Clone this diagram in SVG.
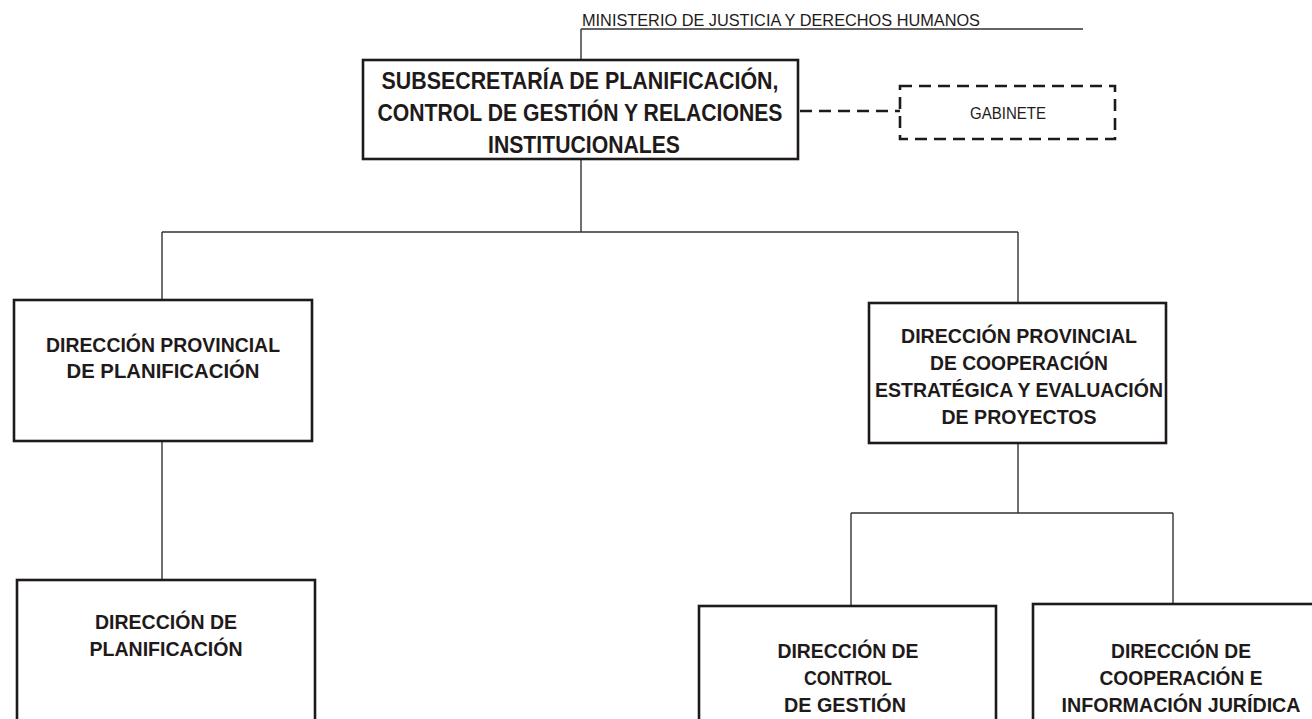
<svg xmlns="http://www.w3.org/2000/svg" width="1312" height="719" viewBox="0 0 1312 719">
<style>
.bg{fill:#ffffff}
.box{fill:#ffffff;stroke:#1f1a1a;stroke-width:2.6}
.dbox{fill:none;stroke:#1f1a1a;stroke-width:2.6;stroke-dasharray:12 7}
.con{fill:none;stroke:#333333;stroke-width:1.4}
.dcon{fill:none;stroke:#1f1a1a;stroke-width:2.6;stroke-dasharray:12 7}
.t{font-family:"Liberation Sans",Arial,sans-serif;font-weight:bold;fill:#1f1a1a;text-anchor:middle;font-size:21px}
.tt{font-size:23px}
.n{font-family:"Liberation Sans",Arial,sans-serif;fill:#1f1a1a;font-size:17px}
</style>
<rect class="bg" x="0" y="0" width="1312" height="719"/>
<g id="connectors">
<path class="con" d="M581 29 H1083 M581 29 V60"/>
<path class="con" d="M581 159 V232 M162 232 H1018 M162 232 V300 M1018 232 V303"/>
<path class="con" d="M162 441 V580"/>
<path class="con" d="M1018 443 V513 M851 513 H1173 M851 513 V606 M1173 513 V604"/>
<path class="dcon" d="M800 111 H900"/>
</g>
<g id="ministerio">
<text class="n" x="582" y="26" textLength="398" lengthAdjust="spacingAndGlyphs">MINISTERIO DE JUSTICIA Y DERECHOS HUMANOS</text>
</g>
<g id="subsecretaria">
<rect class="box" x="363" y="60" width="435" height="99"/>
<text class="t tt" x="580" y="89" textLength="397" lengthAdjust="spacingAndGlyphs">SUBSECRETARÍA DE PLANIFICACIÓN,</text>
<text class="t tt" x="580" y="121" textLength="405" lengthAdjust="spacingAndGlyphs">CONTROL DE GESTIÓN Y RELACIONES</text>
<text class="t tt" x="584" y="153" textLength="192" lengthAdjust="spacingAndGlyphs">INSTITUCIONALES</text>
</g>
<g id="gabinete">
<rect class="dbox" x="900" y="86" width="215" height="53"/>
<text class="n" x="1008" y="119" text-anchor="middle" font-size="16" textLength="76" lengthAdjust="spacingAndGlyphs">GABINETE</text>
</g>
<g id="dp-planificacion">
<rect class="box" x="14" y="300" width="298" height="141"/>
<text class="t" x="163" y="352" textLength="234" lengthAdjust="spacingAndGlyphs">DIRECCIÓN PROVINCIAL</text>
<text class="t" x="163" y="378" textLength="193" lengthAdjust="spacingAndGlyphs">DE PLANIFICACIÓN</text>
</g>
<g id="dp-cooperacion">
<rect class="box" x="869" y="303" width="297" height="140"/>
<text class="t" x="1019" y="343" textLength="236" lengthAdjust="spacingAndGlyphs">DIRECCIÓN PROVINCIAL</text>
<text class="t" x="1019" y="370" textLength="178" lengthAdjust="spacingAndGlyphs">DE COOPERACIÓN</text>
<text class="t" x="1019" y="397" textLength="288" lengthAdjust="spacingAndGlyphs">ESTRATÉGICA Y EVALUACIÓN</text>
<text class="t" x="1019" y="424" textLength="155" lengthAdjust="spacingAndGlyphs">DE PROYECTOS</text>
</g>
<g id="d-planificacion">
<rect class="box" x="17" y="580" width="298" height="160"/>
<text class="t" x="166" y="629" textLength="142" lengthAdjust="spacingAndGlyphs">DIRECCIÓN DE</text>
<text class="t" x="166" y="656" textLength="153" lengthAdjust="spacingAndGlyphs">PLANIFICACIÓN</text>
</g>
<g id="d-control">
<rect class="box" x="699" y="606" width="297" height="140"/>
<text class="t" x="848" y="658" textLength="141" lengthAdjust="spacingAndGlyphs">DIRECCIÓN DE</text>
<text class="t" x="848" y="685" textLength="88" lengthAdjust="spacingAndGlyphs">CONTROL</text>
<text class="t" x="845" y="712" textLength="122" lengthAdjust="spacingAndGlyphs">DE GESTIÓN</text>
</g>
<g id="d-cooperacion">
<rect class="box" x="1033" y="604" width="296" height="140"/>
<text class="t" x="1181" y="658" textLength="140" lengthAdjust="spacingAndGlyphs">DIRECCIÓN DE</text>
<text class="t" x="1181" y="685" textLength="163" lengthAdjust="spacingAndGlyphs">COOPERACIÓN E</text>
<text class="t" x="1181" y="712" textLength="239" lengthAdjust="spacingAndGlyphs">INFORMACIÓN JURÍDICA</text>
</g>
</svg>
